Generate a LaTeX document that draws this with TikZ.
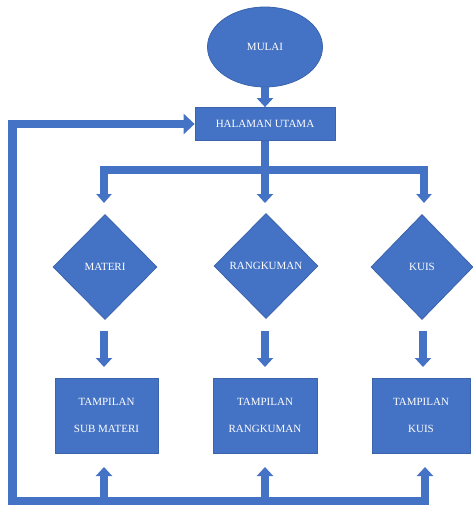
\documentclass[tikz,border=0pt]{standalone}
\usepackage{fontspec}
\setmainfont{Liberation Serif}
\usetikzlibrary{shapes.geometric,arrows.meta}
\definecolor{ofblue}{HTML}{4472C4}
\definecolor{ofedge}{HTML}{3B64AD}
\begin{document}
\begin{tikzpicture}[x=1pt,y=-1pt,
  shapebox/.style={draw=ofedge,line width=0.8pt,fill=ofblue,text=white,inner sep=0pt,
    font={\fontsize{11pt}{27pt}\selectfont},align=center},
  rectbox/.style={shapebox,rectangle},
  dia/.style={shapebox,diamond,minimum width=104pt,minimum height=105pt},
  conn/.style={draw=ofblue,line width=8.5pt,line join=miter},
  arr/.style={conn,-{Triangle[width=16pt,length=9pt]}},
  arrbig/.style={conn,{Triangle[width=16pt,length=9pt]}-{Triangle[width=20pt,length=11pt]}},
  arrtwo/.style={conn,{Triangle[width=15pt,length=9pt]}-{Triangle[width=15pt,length=9pt]}}]
\useasboundingbox (0,0) rectangle (472,506);
\fill[white] (0,0) rectangle (472,506);

% nodes
\node[shapebox,ellipse,minimum width=115pt,minimum height=80pt] (mulai) at (265,47) {MULAI};
\node[rectbox,minimum width=140pt,minimum height=33pt] (halaman) at (265,124) {HALAMAN UTAMA};
\node[dia] (materi) at (105,267) {MATERI};
\node[dia] (rangkuman) at (266,266) {RANGKUMAN};
\node[dia,minimum width=102pt] (kuis) at (422,267) {KUIS};
\node[rectbox,minimum width=103pt,minimum height=75pt] (tsub) at (106.5,415.5) {TAMPILAN\\SUB MATERI};
\node[rectbox,minimum width=104pt,minimum height=75pt] (trang) at (265,415.5) {TAMPILAN\\RANGKUMAN};
\node[rectbox,minimum width=98pt,minimum height=75pt] (tkuis) at (421,415.5) {TAMPILAN\\KUIS};

% helper coordinates
\coordinate (dl) at (104,203);
\coordinate (dm) at (265,203);
\coordinate (dr) at (424,203);
\coordinate (bl) at (104,170);
\coordinate (br) at (424,170);
\coordinate (m1) at (104,331);
\coordinate (m2) at (265,331);
\coordinate (m3) at (423,331);
\coordinate (n1) at (104,367);
\coordinate (n2) at (265,367);
\coordinate (n3) at (423,367);
\coordinate (u1) at (104,467);
\coordinate (u2) at (265,467);
\coordinate (u3) at (425,467);
\coordinate (b1) at (104,501);
\coordinate (b2) at (265,501);
\coordinate (b3) at (425,501);
\coordinate (lb) at (12.5,501);

% connectors
\draw[arr] (mulai.south) -- (halaman.north);
\draw[arr] (halaman.south) -- (dm);
\draw[arrtwo] (dl) -- (bl) -- (br) -- (dr);
\draw[arr] (m1) -- (n1);
\draw[arr] (m2) -- (n2);
\draw[arr] (m3) -- (n3);
\draw[arr] (b1) -- (u1);
\draw[arr] (b2) -- (u2);
\draw[arrbig] (u3) -- (b3) -- (lb) |- (halaman.west);
\end{tikzpicture}
\end{document}
